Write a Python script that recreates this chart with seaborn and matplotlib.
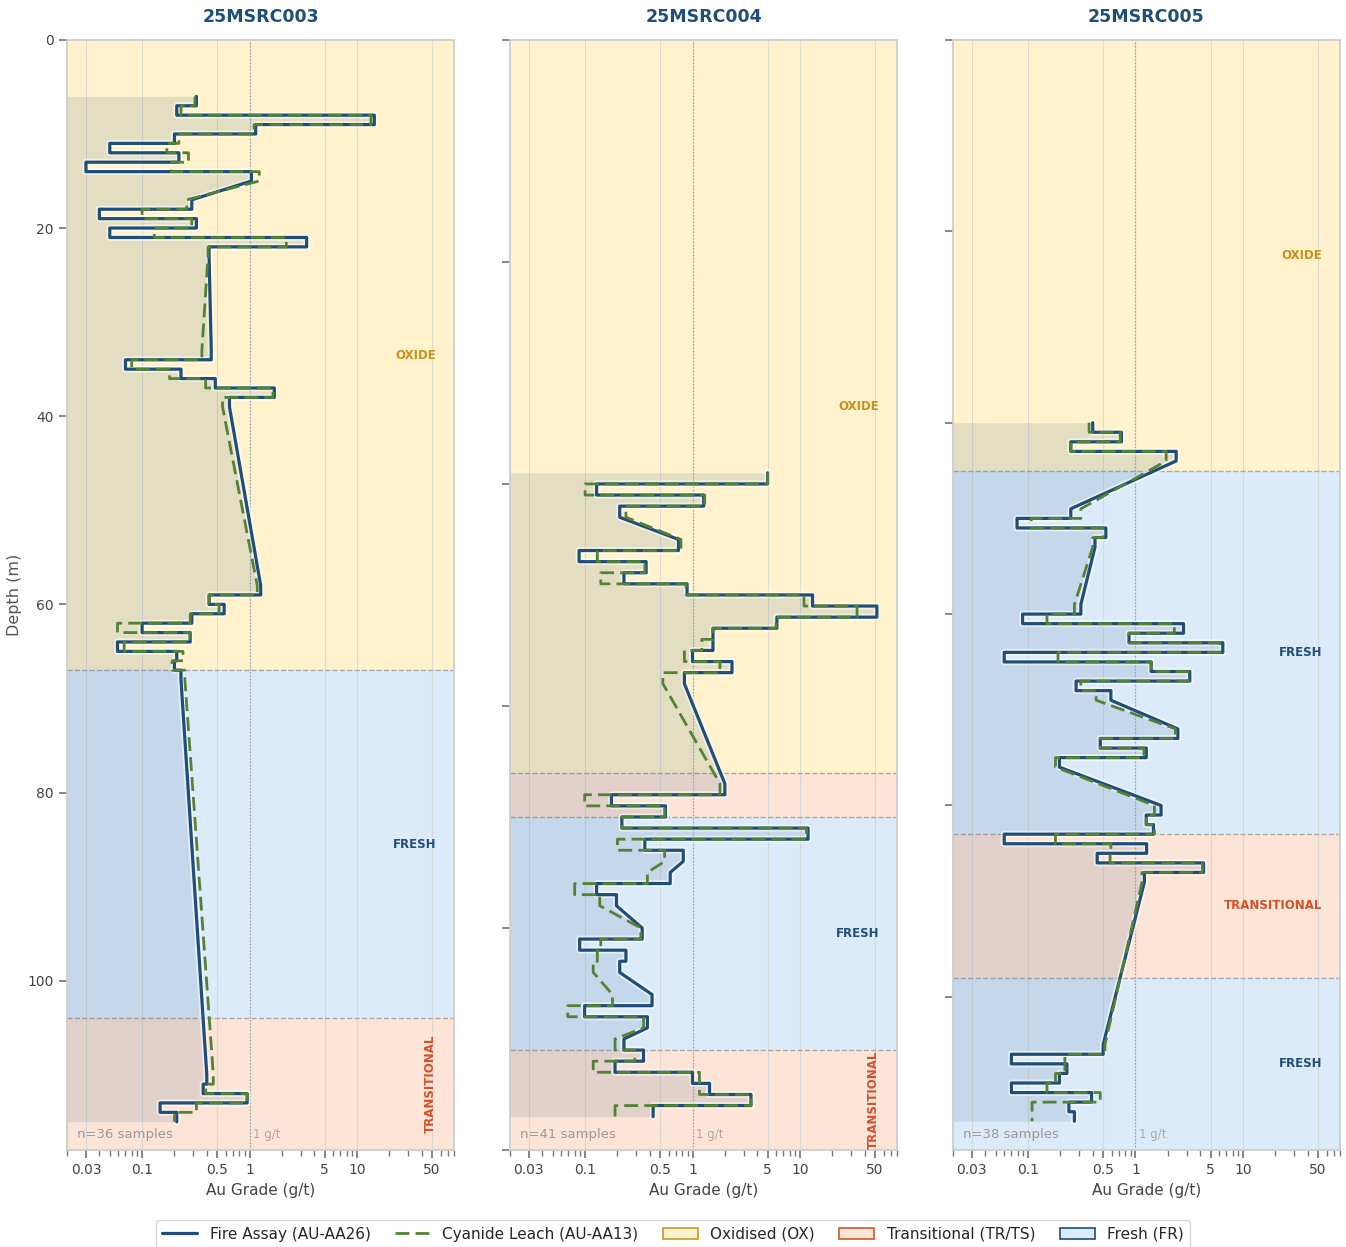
"""
Drill-hole Au grade logs: fire assay vs cyanide leach, shaded by weathering zone.
"""

import numpy as np
import matplotlib
matplotlib.use("Agg")
import matplotlib.pyplot as plt
import matplotlib.ticker as mticker
import matplotlib.patheffects as pe
from matplotlib.lines import Line2D
from matplotlib.patches import Patch
import seaborn as sns

# ── Data (1 m samples, depths are sample tops) ──────────────────────────────
SAMPLE_LEN = 1.0

HOLE_IDS = ["25MSRC003", "25MSRC004", "25MSRC005"]

RC003_FROM = [6, 7, 8, 9, 10, 11, 12, 13, 14, 17, 18, 19, 20, 21, 22, 33, 34, 35,
              36, 37, 38, 58, 59, 60, 61, 62, 63, 64, 65, 66, 67, 110, 111, 112,
              113, 114]
RC003_FA = [0.32, 0.21, 14.5, 1.14, 0.20, 0.05, 0.22, 0.030, 1.04, 0.29, 0.04,
            0.32, 0.05, 3.4, 0.42, 0.44, 0.07, 0.23, 0.48, 1.7, 0.65, 1.27, 0.42,
            0.58, 0.29, 0.10, 0.28, 0.059, 0.21, 0.20, 0.23, 0.40, 0.37, 0.95,
            0.147, 0.21]
RC003_CN = [0.31, 0.23, 13.5, 1.1, 0.22, 0.17, 0.27, 0.187, 1.23, 0.26, 0.10,
            0.29, 0.13, 2.2, 0.41, 0.36, 0.08, 0.18, 0.39, 1.65, 0.56, 1.18, 0.42,
            0.52, 0.28, 0.059, 0.28, 0.068, 0.24, 0.19, 0.25, 0.46, 0.39, 0.95,
            0.32, 0.20]

RC004_FROM = [39, 40, 41, 42, 45, 46, 47, 48, 49, 50, 51, 52, 53, 54, 55, 56, 57,
              67, 68, 69, 70, 71, 72, 73, 75, 76, 77, 80, 81, 82, 83, 86, 87, 88,
              90, 91, 92, 93, 94, 95, 96]
RC004_FA = [5.0, 0.128, 1.27, 0.21, 0.74, 0.088, 0.37, 0.23, 0.89, 13.1, 52, 6.1,
            1.55, 1.55, 1.0, 2.33, 0.84, 2.0, 0.176, 0.56, 0.22, 11.9, 0.36, 0.82,
            0.62, 0.128, 0.196, 0.34, 0.089, 0.24, 0.21, 0.42, 0.099, 0.38, 0.23,
            0.35, 0.19, 1.0, 1.44, 3.5, 0.43]
RC004_CN = [5.0, 0.10, 1.3, 0.24, 0.78, 0.13, 0.36, 0.14, 0.87, 10.9, 34, 6.0,
            1.55, 1.22, 0.84, 1.8, 0.53, 1.8, 0.099, 0.55, 0.22, 11.5, 0.20, 0.55,
            0.38, 0.08, 0.137, 0.33, 0.14, 0.13, 0.119, 0.18, 0.069, 0.35, 0.19,
            0.29, 0.119, 1.16, 1.16, 3.5, 0.19]

RC005_FROM = [40, 41, 42, 43, 49, 50, 51, 52, 59, 60, 61, 62, 63, 64, 65, 66, 67,
              68, 72, 73, 74, 75, 80, 81, 82, 83, 84, 85, 86, 87, 105, 106, 107,
              108, 109, 110, 111, 112]
RC005_FA = [0.40, 0.74, 0.25, 2.39, 0.25, 0.079, 0.53, 0.42, 0.31, 0.089, 2.8,
            0.87, 6.5, 0.06, 1.4, 3.2, 0.28, 0.59, 2.48, 0.47, 1.26, 0.196, 1.73,
            1.26, 1.47, 0.06, 1.27, 0.44, 4.3, 1.21, 0.50, 0.070, 0.23, 0.196,
            0.07, 0.39, 0.24, 0.27]
RC005_CN = [0.37, 0.72, 0.25, 1.93, 0.31, 0.107, 0.50, 0.40, 0.27, 0.15, 2.3,
            0.87, 6.1, 0.19, 1.4, 3.1, 0.31, 0.43, 2.35, 0.47, 1.2, 0.18, 1.5,
            1.26, 1.5, 0.18, 0.59, 0.58, 4.2, 1.15, 0.52, 0.22, 0.22, 0.18, 0.15,
            0.47, 0.109, 0.109]

# weathering zones: code, top, bottom (last zone runs to end of plot)
RC003_ZONES = [("OX", 0, 67), ("FR", 67, 104), ("TR", 104, None)]
RC004_ZONES = [("OX", 0, 66), ("TR", 66, 70), ("FR", 70, 91), ("TR", 91, None)]
RC005_ZONES = [("OX", 0, 45), ("FR", 45, 83), ("TR", 83, 98), ("FR", 98, None)]

GRADE_TICKS = [0.03, 0.1, 0.5, 1, 5, 10, 50]
GRADE_LABELS = ["0.03", "0.1", "0.5", "1", "5", "10", "50"]

HOLES = [
    (HOLE_IDS[0], RC003_FROM, RC003_FA, RC003_CN, RC003_ZONES),
    (HOLE_IDS[1], RC004_FROM, RC004_FA, RC004_CN, RC004_ZONES),
    (HOLE_IDS[2], RC005_FROM, RC005_FA, RC005_CN, RC005_ZONES),
]

# ── Style ───────────────────────────────────────────────────────────────────
FA_COLOR = "#1f4e79"
CN_COLOR = "#548235"
ZONE_STYLE = {
    "OX": {"face": "#fff2cc", "edge": "#c99a1e", "text": "#c8921a", "name": "OXIDE"},
    "TR": {"face": "#fce4d6", "edge": "#d5572d", "text": "#d0522a", "name": "TRANSITIONAL"},
    "FR": {"face": "#dcebfa", "edge": "#1f4e79", "text": "#1f4e79", "name": "FRESH"},
}
XMIN, XMAX = 0.02, 80
DEPTH_PAD = 3

sns.set_theme(style="ticks")
plt.rcParams.update({
    "font.family": ["DejaVu Sans"],
    "axes.edgecolor": "#cccccc",
    "xtick.color": "#777777",
    "ytick.color": "#777777",
    "xtick.labelcolor": "#444444",
    "ytick.labelcolor": "#444444",
    "xtick.labelsize": 10,
    "ytick.labelsize": 10,
})


def sample_path(from_d, values):
    """Vertical segment over each sample; straight links across gaps."""
    xs, ys = [], []
    for d, v in zip(from_d, values):
        xs += [v, v]
        ys += [d, d + SAMPLE_LEN]
    return np.array(xs), np.array(ys)


fig, axes = plt.subplots(1, 3, figsize=(13.46, 12.47), dpi=100)
fig.subplots_adjust(left=0.0498, right=0.9955, top=0.968, bottom=0.0778,
                    wspace=0.1447)

for i, (ax, (hole, from_d, fa, cn, zones)) in enumerate(zip(axes, HOLES)):
    max_depth = max(from_d) + SAMPLE_LEN
    y_bottom = max_depth + DEPTH_PAD

    # zone bands, boundaries and labels
    for j, (code, top, bot) in enumerate(zones):
        bot = y_bottom if bot is None else bot
        st = ZONE_STYLE[code]
        ax.axhspan(top, bot, color=st["face"], lw=0, zorder=0.1)
        if j > 0:
            ax.axhline(top, color="#aaaaaa", ls="--", lw=1.0, zorder=1)
        h = bot - top
        if h < 5:
            continue
        if h < 15:
            ax.text(0.94, (top + bot) / 2, st["name"], rotation=90,
                    transform=ax.get_yaxis_transform(), ha="center", va="center",
                    fontsize=8.5, fontweight="bold", color=st["text"], zorder=5)
        else:
            ax.text(0.955, (top + bot) / 2, st["name"],
                    transform=ax.get_yaxis_transform(), ha="right", va="center",
                    fontsize=8.5, fontweight="bold", color=st["text"], zorder=5)

    fa_x, fa_y = sample_path(from_d, fa)
    cn_x, cn_y = sample_path(from_d, cn)

    ax.fill_betweenx(fa_y, XMIN, fa_x, color=FA_COLOR, alpha=0.12, lw=0, zorder=1.5)
    sns.lineplot(x=fa_x, y=fa_y, sort=False, estimator=None, ax=ax,
                 color=FA_COLOR, lw=2.3, zorder=3,
                 path_effects=[pe.Stroke(linewidth=5, foreground="white", alpha=0.55),
                               pe.Normal()])
    sns.lineplot(x=cn_x, y=cn_y, sort=False, estimator=None, ax=ax,
                 color=CN_COLOR, lw=2.0, linestyle=(0, (5, 2.2)), zorder=4)

    ax.axvline(1, color="#999999", ls=":", lw=0.9, zorder=2)
    ax.text(1.08, 0.008, "1 g/t", transform=ax.get_xaxis_transform(),
            ha="left", va="bottom", fontsize=8.5, color="#aaaaaa", zorder=5)
    ax.text(0.027, 0.008, f"n={len(from_d)} samples", transform=ax.transAxes,
            ha="left", va="bottom", fontsize=9.5, color="#999999", zorder=5)

    ax.set_xscale("log")
    ax.set_xlim(XMIN, XMAX)
    ax.set_ylim(y_bottom, 0)
    ax.set_xticks(GRADE_TICKS, GRADE_LABELS)
    ax.xaxis.set_minor_formatter(mticker.NullFormatter())
    ax.grid(axis="x", which="major", color="#d4d4d4", lw=0.8, alpha=0.8)
    ax.set_axisbelow(True)
    for spine in ax.spines.values():
        spine.set_visible(True)
        spine.set_color("#cccccc")

    ax.set_title(hole, fontsize=12.5, fontweight="bold", color=FA_COLOR, pad=13)
    ax.set_xlabel("Au Grade (g/t)", fontsize=11, color="#444444")
    if i == 0:
        ax.set_ylabel("Depth (m)", fontsize=11.5, color="#555555")
    else:
        ax.set_ylabel("")
        ax.tick_params(axis="y", labelleft=False)

handles = [
    Line2D([0], [0], color=FA_COLOR, lw=2.3, label="Fire Assay (AU-AA26)"),
    Line2D([0], [0], color=CN_COLOR, lw=2.0, ls=(0, (5, 2.2)),
           label="Cyanide Leach (AU-AA13)"),
    Patch(facecolor=ZONE_STYLE["OX"]["face"], edgecolor=ZONE_STYLE["OX"]["edge"],
          lw=1.2, label="Oxidised (OX)"),
    Patch(facecolor=ZONE_STYLE["TR"]["face"], edgecolor=ZONE_STYLE["TR"]["edge"],
          lw=1.2, label="Transitional (TR/TS)"),
    Patch(facecolor=ZONE_STYLE["FR"]["face"], edgecolor=ZONE_STYLE["FR"]["edge"],
          lw=1.2, label="Fresh (FR)"),
]
fig.legend(handles=handles, loc="lower center", bbox_to_anchor=(0.5, -0.003),
           ncol=5, fontsize=11, frameon=True, edgecolor="#cccccc",
           handlelength=2.3, columnspacing=1.6, borderaxespad=0.2)

plt.savefig("out.png", dpi=100)
plt.close()
